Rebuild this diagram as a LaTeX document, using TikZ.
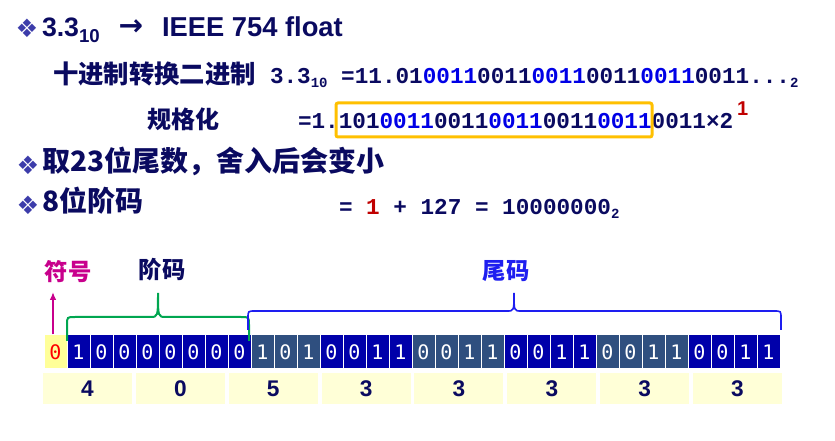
\documentclass[tikz,border=0pt]{standalone}
\usepackage{fontspec}
\setmainfont{Liberation Sans}
\newfontfamily\cjk{Noto Sans CJK SC}
\newfontfamily\symfont{DejaVu Sans}
\newfontfamily\codefont{Liberation Mono}
\newfontfamily\bitfont{DejaVu Sans Mono}
\usetikzlibrary{arrows.meta}

\definecolor{navytext}{RGB}{10,10,96}
\definecolor{bitblue}{RGB}{0,0,230}
\definecolor{bulletblue}{RGB}{60,60,170}
\definecolor{cellblue}{RGB}{0,0,170}
\definecolor{cellslate}{RGB}{47,79,127}
\definecolor{signyellow}{RGB}{255,255,153}
\definecolor{hexyellow}{RGB}{255,255,215}
\definecolor{expred}{RGB}{192,0,0}
\definecolor{signmag}{RGB}{200,0,140}
\definecolor{expgreen}{RGB}{0,166,80}
\definecolor{braceblue}{RGB}{30,30,240}
\definecolor{boxorange}{RGB}{255,192,0}

\newcommand{\lowidx}[3]{\raisebox{#1}{\fontsize{#2}{#2}\selectfont #3}}

\tikzset{every picture/.style={line width=0.75pt}}
\tikzset{
  txt/.style={inner sep=0pt, outer sep=0pt, anchor=base west, text=navytext},
  bullet/.style={inner sep=0pt, text=bulletblue, font=\symfont\fontsize{19}{19}\selectfont},
  codetxt/.style={txt, font=\codefont\bfseries\fontsize{17}{17}\selectfont},
  bitcell/.style={draw=white, line width=0.75pt, minimum width=17.25pt, minimum height=25.5pt, inner sep=0pt, text=white, font=\bitfont\fontsize{15}{15}\selectfont},
  expbit/.style={bitcell, fill=cellblue},
  slatebit/.style={bitcell, fill=cellslate},
  signbit/.style={bitcell, fill=signyellow, text=red},
  hexcell/.style={fill=hexyellow, minimum width=66.75pt, minimum height=23.25pt, inner sep=0pt, text=navytext, font=\bfseries\fontsize{17}{17}\selectfont},
  fieldlbl/.style={inner sep=0pt, font=\cjk\bfseries\fontsize{17.5}{17.5}\selectfont},
}

\begin{document}
\begin{tikzpicture}[x=0.75pt,y=0.75pt,yscale=-1,xscale=1]
        \useasboundingbox (0,0) rectangle (835,441); %same size as the slide crop

        % Title
        \node [bullet] (bul1) at (27,28) {❖};
        \node [txt, font=\bfseries\fontsize{20}{20}\selectfont] (title) at (42,37) {3.3\lowidx{-4.5pt}{14}{10}};
        \node [inner sep=0pt, text=navytext, font=\symfont\bfseries\fontsize{22}{22}\selectfont] (arr) at (131,28) {→};
        \node [txt, font=\bfseries\fontsize{20.5}{20.5}\selectfont] (ieee) at (162,37) {IEEE 754 float};

        % Binary value
        \node [txt, font=\cjk\bfseries\fontsize{19}{19}\selectfont] (convlbl) at (53,84) {十进制转换二进制};
        \node [codetxt] (convval) at (270,84) {3.3\lowidx{-3pt}{10.5}{10} =11.01\textcolor{bitblue}{0011}0011\textcolor{bitblue}{0011}0011\textcolor{bitblue}{0011}0011...\lowidx{-3pt}{10.5}{2}};

        % Normalised
        \node [txt, font=\cjk\bfseries\fontsize{18}{18}\selectfont] (normlbl) at (147,129) {规格化};
        \node [codetxt] (normval) at (298,129) {=1.101\textcolor{bitblue}{0011}0011\textcolor{bitblue}{0011}0011\textcolor{bitblue}{0011}0011×2};
        \draw [draw=boxorange, line width=2.25pt, rounded corners=1.5pt] (336,103) rectangle (652,137);
        \node [txt, text=expred, font=\bfseries\fontsize{15}{15}\selectfont] (expo) at (737,116) {1};

        % Bullets
        \node [bullet] (bul2) at (28,165) {❖};
        \node [txt, font=\cjk\bfseries\fontsize{21}{21}\selectfont] (round) at (42,172) {取23位尾数，舍入后会变小};
        \node [bullet] (bul3) at (28,205) {❖};
        \node [txt, font=\cjk\bfseries\fontsize{21}{21}\selectfont] (explen) at (42,212) {8位阶码};
        \node [codetxt] (expval) at (339,215) {= \textcolor{expred}{1} + 127 = 10000000\lowidx{-3pt}{10.5}{2}};

        % Bits
        \foreach \b [count=\k from 0] in {0,1,0,0,0,0,0,0,0,1,0,1,0,0,1,1,0,0,1,1,0,0,1,1,0,0,1,1,0,0,1,1} {
          \pgfmathtruncatemacro{\grp}{mod(int(\k/4),2)}
          \ifnum\k=0 \def\sty{signbit}\else\ifnum\k<9 \def\sty{expbit}\else\ifnum\grp=1 \def\sty{expbit}\else\def\sty{slatebit}\fi\fi\fi
          \node [\sty] (b\k) at ({55.5+23*\k},352) {\b};
        }

        % Hex digits
        \foreach \h [count=\i from 0] in {4,0,5,3,3,3,3,3} {
          \node [hexcell] (h\i) at ({87.5+92.86*\i},388.5) {\h};
        }

        % Labels
        \node [fieldlbl, text=signmag] (signlbl) at (68,272) {符号};
        \node [fieldlbl, text=navytext] (explbl) at (162,270) {阶码};
        \node [fieldlbl, text=braceblue] (mantlbl) at (506,271) {尾码};

        \coordinate (signtip) at (53,292);
        \draw [signmag, line width=1.5pt, -{Latex[length=6pt,width=5pt]}] ([xshift=-1.875pt]b0.north) -- (signtip);

        % Braces
        \draw [expgreen, line width=1.5pt] (67,341) -- (67,325) .. controls (67,317) .. (75,317) -- (150,317) .. controls (158,317) .. (158,293) .. controls (158,317) .. (166,317) -- (241,317) .. controls (249,317) .. (249,325) -- (249,341);
        \draw [braceblue, line width=1.2pt] (248,330) -- (248,318) .. controls (248,311) .. (255,311) -- (507,311) .. controls (514,311) .. (514,293) .. controls (514,311) .. (521,311) -- (774,311) .. controls (781,311) .. (781,318) -- (781,330);

\end{tikzpicture}
\end{document}
